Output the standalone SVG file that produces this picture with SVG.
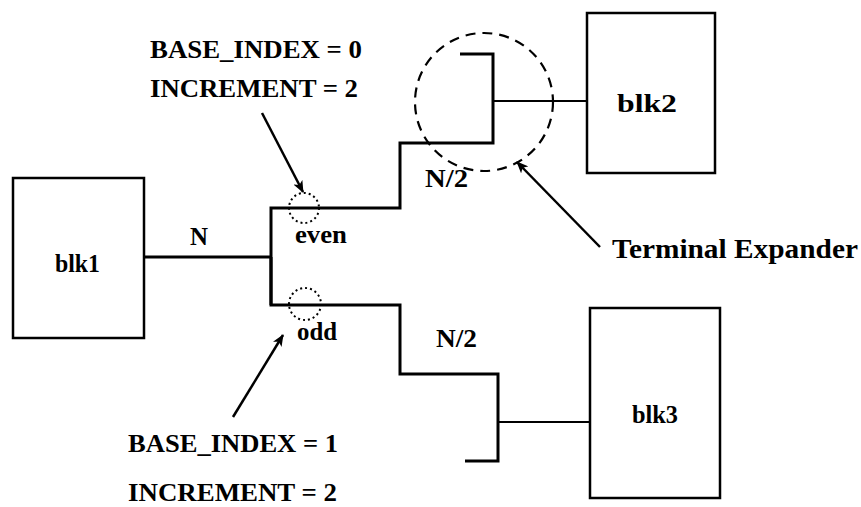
<svg xmlns="http://www.w3.org/2000/svg" width="861" height="507" viewBox="0 0 861 507">
<style>
.box{fill:#fff;stroke:#000;stroke-width:2.5}
.bus{fill:none;stroke:#000;stroke-width:3;stroke-linejoin:miter}
.stub{fill:none;stroke:#000;stroke-width:2}
.arr{fill:none;stroke:#000;stroke-width:2.5}
.t{font-family:"Liberation Serif","Times New Roman",serif;font-weight:bold;font-size:26px;fill:#000}
</style>
<defs>
<marker id="ah" viewBox="0 0 12 10" refX="11" refY="5" markerWidth="12" markerHeight="10" markerUnits="userSpaceOnUse" orient="auto">
<path d="M0,0 L12,5 L0,10 L3,5 Z" fill="#000"/>
</marker>
</defs>
<g id="connectors">
<line class="bus" x1="144" y1="257" x2="271" y2="257"/>
<polyline class="bus" points="271,305 271,208 400,208 400,143 493,143 493,54 460,54"/>
<line class="stub" x1="493" y1="101" x2="587" y2="101"/>
<polyline class="bus" points="271,257 271,305 400,305 400,374 498,374 498,461 465,461"/>
<line class="stub" x1="498" y1="422" x2="590" y2="422"/>
<line class="arr" x1="262" y1="113" x2="303" y2="192" marker-end="url(#ah)"/>
<line class="arr" x1="233" y1="417" x2="283" y2="335" marker-end="url(#ah)"/>
<line class="arr" x1="600" y1="247" x2="517" y2="162" marker-end="url(#ah)"/>
</g>
<g id="blk1"><rect class="box" x="13" y="178" width="131" height="160"/><text class="t" x="55" y="272" textLength="45" lengthAdjust="spacingAndGlyphs">blk1</text></g>
<g id="blk2"><rect class="box" x="587" y="13" width="128" height="160"/><text class="t" x="617" y="112" textLength="60" lengthAdjust="spacingAndGlyphs">blk2</text></g>
<g id="blk3"><rect class="box" x="590" y="308" width="130" height="190"/><text class="t" x="632" y="423" textLength="46" lengthAdjust="spacingAndGlyphs">blk3</text></g>
<g id="terminal-expander">
<circle cx="484" cy="102" r="69" fill="none" stroke="#000" stroke-width="2.2" stroke-dasharray="10,7"/>
</g>
<g id="even-tap"><circle cx="304" cy="208" r="15" fill="none" stroke="#000" stroke-width="2" stroke-dasharray="2,3"/></g>
<g id="odd-tap"><circle cx="305" cy="304" r="16" fill="none" stroke="#000" stroke-width="2" stroke-dasharray="2,3"/></g>
<g id="labels">
<text class="t" x="150" y="58" textLength="212" lengthAdjust="spacingAndGlyphs">BASE_INDEX = 0</text>
<text class="t" x="150" y="97" textLength="208" lengthAdjust="spacingAndGlyphs">INCREMENT = 2</text>
<text class="t" x="190" y="245" textLength="18" lengthAdjust="spacingAndGlyphs">N</text>
<text class="t" x="295" y="243" textLength="52" lengthAdjust="spacingAndGlyphs">even</text>
<text class="t" x="297" y="340" textLength="40" lengthAdjust="spacingAndGlyphs">odd</text>
<text class="t" x="425" y="187" textLength="43" lengthAdjust="spacingAndGlyphs">N/2</text>
<text class="t" x="436" y="347" textLength="41" lengthAdjust="spacingAndGlyphs">N/2</text>
<text class="t" x="612" y="258" textLength="246" lengthAdjust="spacingAndGlyphs" style="font-size:27px">Terminal Expander</text>
<text class="t" x="128" y="452" textLength="210" lengthAdjust="spacingAndGlyphs">BASE_INDEX = 1</text>
<text class="t" x="128" y="501" textLength="209" lengthAdjust="spacingAndGlyphs">INCREMENT = 2</text>
</g>
</svg>
